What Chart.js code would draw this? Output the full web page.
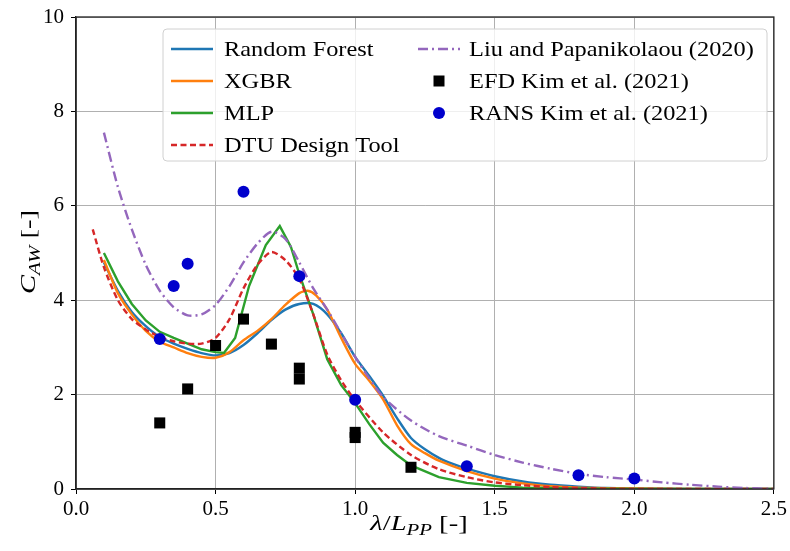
<!DOCTYPE html>
<html>
<head>
<meta charset="utf-8">
<script src="https://cdn.jsdelivr.net/npm/chart.js@4.4.0/dist/chart.umd.min.js"></script>
<style>
  html, body { margin: 0; padding: 0; background: #fff; }
  #wrap { width: 790px; height: 551px; }
</style>
</head>
<body>
<div id="wrap"><canvas id="cawChart" width="790" height="551"></canvas></div>
<script>
// wavelength ratio (lambda / Lpp) and added resistance coefficient per series
const rfX  = [0.1, 0.15, 0.2, 0.25, 0.3, 0.35, 0.4, 0.45, 0.5, 0.55, 0.6, 0.65, 0.7, 0.75, 0.8, 0.85, 0.9, 0.95, 1.0, 1.05, 1.1, 1.15, 1.2, 1.25, 1.3, 1.35, 1.4, 1.5, 1.6, 1.7, 1.8, 1.9, 2.0, 2.2, 2.5];
const rfY  = [4.8, 4.2, 3.75, 3.45, 3.22, 3.08, 2.97, 2.88, 2.83, 2.88, 3.05, 3.3, 3.58, 3.8, 3.92, 3.92, 3.7, 3.3, 2.8, 2.4, 1.98, 1.5, 1.08, 0.84, 0.66, 0.53, 0.43, 0.27, 0.16, 0.09, 0.05, 0.02, 0.01, 0.0, 0.0];

const xgbX = [0.1, 0.15, 0.2, 0.25, 0.3, 0.35, 0.4, 0.45, 0.5, 0.55, 0.6, 0.65, 0.7, 0.75, 0.8, 0.83, 0.86, 0.9, 0.95, 1.0, 1.05, 1.1, 1.15, 1.2, 1.25, 1.3, 1.4, 1.5, 1.6, 1.7, 1.8, 2.0, 2.2, 2.5];
const xgbY = [4.85, 4.15, 3.7, 3.35, 3.12, 3.0, 2.88, 2.8, 2.78, 2.9, 3.15, 3.35, 3.6, 3.9, 4.15, 4.2, 4.1, 3.8, 3.2, 2.65, 2.3, 1.9, 1.35, 0.95, 0.76, 0.6, 0.38, 0.22, 0.12, 0.06, 0.03, 0.01, 0.0, 0.0];

const mlpX = [0.1, 0.15, 0.2, 0.25, 0.3, 0.35, 0.4, 0.45, 0.5, 0.53, 0.57, 0.62, 0.68, 0.73, 0.77, 0.8, 0.85, 0.9, 0.95, 1.0, 1.05, 1.1, 1.15, 1.2, 1.3, 1.4, 1.5, 1.6, 1.8, 2.0, 2.5];
const mlpY = [5.0, 4.4, 3.92, 3.57, 3.33, 3.2, 3.08, 2.96, 2.9, 2.88, 3.2, 4.3, 5.17, 5.57, 5.13, 4.55, 3.7, 2.75, 2.2, 1.82, 1.38, 0.98, 0.72, 0.5, 0.25, 0.13, 0.07, 0.03, 0.01, 0.0, 0.0];

const dtuX = [0.06, 0.1, 0.15, 0.2, 0.25, 0.3, 0.35, 0.4, 0.45, 0.5, 0.55, 0.6, 0.65, 0.7, 0.75, 0.8, 0.85, 0.9, 0.95, 1.0, 1.1, 1.2, 1.3, 1.4, 1.5, 1.6, 1.7, 1.8, 2.0, 2.5];
const dtuY = [5.5, 4.7, 4.0, 3.6, 3.38, 3.22, 3.13, 3.08, 3.08, 3.2, 3.6, 4.25, 4.75, 5.02, 4.85, 4.45, 3.7, 2.85, 2.3, 1.88, 1.2, 0.72, 0.42, 0.25, 0.14, 0.08, 0.04, 0.02, 0.0, 0.0];

const liuX = [0.1, 0.15, 0.2, 0.25, 0.3, 0.35, 0.4, 0.45, 0.5, 0.55, 0.6, 0.65, 0.7, 0.75, 0.8, 0.85, 0.9, 0.95, 1.0, 1.05, 1.1, 1.2, 1.3, 1.4, 1.5, 1.6, 1.7, 1.8, 1.9, 2.0, 2.1, 2.2, 2.3, 2.4, 2.5];
const liuY = [7.55, 6.4, 5.5, 4.75, 4.2, 3.85, 3.68, 3.7, 3.9, 4.3, 4.8, 5.2, 5.45, 5.3, 4.8, 4.25, 3.8, 3.3, 2.8, 2.35, 1.95, 1.45, 1.12, 0.92, 0.72, 0.56, 0.43, 0.32, 0.25, 0.2, 0.14, 0.09, 0.05, 0.02, 0.0];

// measured values
const efdX = [0.3, 0.4, 0.5, 0.6, 0.7, 0.8, 0.8, 1.0, 1.0, 1.2];
const efdY = [1.4, 2.12, 3.04, 3.6, 3.07, 2.56, 2.33, 1.2, 1.09, 0.46];

const ransX = [0.3, 0.35, 0.4, 0.6, 0.8, 1.0, 1.4, 1.8, 2.0];
const ransY = [3.18, 4.3, 4.77, 6.3, 4.51, 1.89, 0.48, 0.29, 0.22];

const seriesNames = ['Random Forest', 'XGBR', 'MLP', 'DTU Design Tool',
                     'Liu and Papanikolaou (2020)', 'EFD Kim et al. (2021)', 'RANS Kim et al. (2021)'];

const xTicks = [0.0, 0.5, 1.0, 1.5, 2.0, 2.5];
const yTicks = [0, 2, 4, 6, 8, 10];

const SERIF = '"Liberation Serif", "DejaVu Serif", serif';
// Liberation Serif runs narrower than the TeX face, so hand-drawn text is widened a bit
const STRETCH = 1.16;

function pts(xs, ys) {
    return xs.map((x, i) => ({ x: x, y: ys[i] }));
}

function lineSet(label, xs, ys, color, dash, order) {
    return {
        label: label,
        data: pts(xs, ys),
        borderColor: color,
        backgroundColor: color,
        borderWidth: 2.4,
        borderDash: dash,
        pointRadius: 0,
        tension: 0.25,
        fill: false,
        order: order
    };
}

// full frame around the plot plus the axis titles with subscripts
const framePlugin = {
    id: 'frame',
    afterDatasetsDraw(chart) {
        const a = chart.chartArea;
        const ctx = chart.ctx;
        ctx.save();
        ctx.strokeStyle = '#222';
        ctx.lineWidth = 1.3;
        ctx.strokeRect(a.left, a.top, a.right - a.left, a.bottom - a.top);
        ctx.restore();
    },
    afterDraw(chart) {
        const ctx = chart.ctx;
        ctx.save();
        ctx.fillStyle = '#000';
        ctx.textBaseline = 'alphabetic';

        function runs(parts) {
            let w = 0;
            parts.forEach(p => {
                ctx.font = (p.it ? 'italic ' : '') + (p.sub ? 16 : 22) + 'px ' + SERIF;
                p.w = ctx.measureText(p.t).width;
                w += p.w;
            });
            return w;
        }
        function drawRuns(parts, x0, y0) {
            let x = x0;
            parts.forEach(p => {
                ctx.font = (p.it ? 'italic ' : '') + (p.sub ? 16 : 22) + 'px ' + SERIF;
                ctx.fillText(p.t, x, y0 + (p.sub ? 5 : 0));
                x += p.w;
            });
        }

        const xt = [
            { t: 'λ', it: true }, { t: '/' }, { t: 'L', it: true },
            { t: 'PP', it: true, sub: true }, { t: ' [-]' }
        ];
        const wx = runs(xt);
        ctx.save();
        ctx.translate(419, 530);
        ctx.scale(1.3, 1);
        drawRuns(xt, -wx / 2, 0);
        ctx.restore();

        const yt = [
            { t: 'C', it: true }, { t: 'AW', it: true, sub: true }, { t: ' [-]' }
        ];
        const wy = runs(yt);
        ctx.translate(35, 252);
        ctx.rotate(-Math.PI / 2);
        ctx.scale(1.3, 1);
        drawRuns(yt, -wy / 2, 0);
        ctx.restore();
    }
};

// two-column legend box in the upper part of the plot
const legendPlugin = {
    id: 'twoColLegend',
    afterDatasetsDraw(chart) {
        const ctx = chart.ctx;
        const box = { x: 163, y: 29, w: 604, h: 132 };
        ctx.save();
        ctx.beginPath();
        ctx.roundRect(box.x, box.y, box.w, box.h, 4);
        ctx.fillStyle = 'rgba(255,255,255,0.8)';
        ctx.fill();
        ctx.strokeStyle = '#d0d0d0';
        ctx.lineWidth = 1;
        ctx.stroke();

        const cols = [{ hx: 171, tx: 224 }, { hx: 418, tx: 469 }];
        const rowY = [49, 81, 113, 145];
        ctx.font = '21px ' + SERIF;
        ctx.textBaseline = 'middle';
        chart.data.datasets.forEach((ds, i) => {
            const c = cols[i < 4 ? 0 : 1];
            const y = rowY[i < 4 ? i : i - 4];
            if (ds.showLine === false) {
                const cx = c.hx + 21;
                ctx.fillStyle = ds.backgroundColor;
                ctx.beginPath();
                if (ds.pointStyle === 'rect') {
                    ctx.rect(cx - 5.5, y - 5.5, 11, 11);
                } else {
                    ctx.arc(cx, y, 6, 0, Math.PI * 2);
                }
                ctx.fill();
            } else {
                ctx.strokeStyle = ds.borderColor;
                ctx.lineWidth = ds.borderWidth;
                ctx.setLineDash(ds.borderDash || []);
                ctx.beginPath();
                ctx.moveTo(c.hx, y);
                ctx.lineTo(c.hx + 42, y);
                ctx.stroke();
                ctx.setLineDash([]);
            }
            ctx.save();
            ctx.translate(c.tx, y + 1);
            ctx.scale(STRETCH, 1);
            ctx.fillStyle = '#000';
            ctx.fillText(ds.label, 0, 0);
            ctx.restore();
        });
        ctx.restore();
    }
};

const ctx = document.getElementById('cawChart').getContext('2d');

new Chart(ctx, {
    type: 'line',
    data: {
        datasets: [
            lineSet(seriesNames[0], rfX, rfY, '#1f77b4', [], 7),
            lineSet(seriesNames[1], xgbX, xgbY, '#ff7f0e', [], 6),
            Object.assign(lineSet(seriesNames[2], mlpX, mlpY, '#2ca02c', [], 5), { tension: 0 }),
            lineSet(seriesNames[3], dtuX, dtuY, '#d62728', [6, 3.5], 4),
            lineSet(seriesNames[4], liuX, liuY, '#9467bd', [10, 4, 2, 4], 3),
            {
                label: seriesNames[5],
                data: pts(efdX, efdY),
                showLine: false,
                pointStyle: 'rect',
                pointRadius: 7.8,
                pointBackgroundColor: '#000',
                pointBorderWidth: 0,
                backgroundColor: '#000',
                borderColor: '#000',
                order: 2
            },
            {
                label: seriesNames[6],
                data: pts(ransX, ransY),
                showLine: false,
                pointStyle: 'circle',
                pointRadius: 6,
                pointBackgroundColor: '#0000cc',
                pointBorderWidth: 0,
                backgroundColor: '#0000cc',
                borderColor: '#0000cc',
                order: 1
            }
        ]
    },
    options: {
        responsive: false,
        animation: false,
        events: [],
        layout: { padding: { left: 0, right: 16, top: 17, bottom: 0 } },
        plugins: {
            legend: { display: false },
            tooltip: { enabled: false }
        },
        scales: {
            x: {
                type: 'linear',
                min: 0,
                max: 2.5,
                afterFit(scale) { scale.height = 62; },
                afterBuildTicks(scale) { scale.ticks = xTicks.map(v => ({ value: v })); },
                grid: {
                    color: '#b0b0b0',
                    lineWidth: 1,
                    tickColor: '#000',
                    tickLength: 5,
                    drawTicks: true
                },
                border: { color: '#222', width: 1.3 },
                ticks: {
                    color: '#000',
                    padding: 3,
                    font: { family: SERIF, size: 21 },
                    callback: v => v.toFixed(1)
                }
            },
            y: {
                type: 'linear',
                min: 0,
                max: 10,
                afterFit(scale) {
                    scale.width = 76;
                    scale.paddingTop = 0;
                    scale.paddingBottom = 0;
                },
                afterBuildTicks(scale) { scale.ticks = yTicks.map(v => ({ value: v })); },
                grid: {
                    color: '#b0b0b0',
                    lineWidth: 1,
                    tickColor: '#000',
                    tickLength: 5,
                    drawTicks: true
                },
                border: { color: '#222', width: 1.3 },
                ticks: {
                    color: '#000',
                    padding: 7,
                    font: { family: SERIF, size: 21, lineHeight: 1.0 },
                    callback: v => String(v)
                }
            }
        }
    },
    plugins: [framePlugin, legendPlugin]
});
</script>
</body>
</html>
